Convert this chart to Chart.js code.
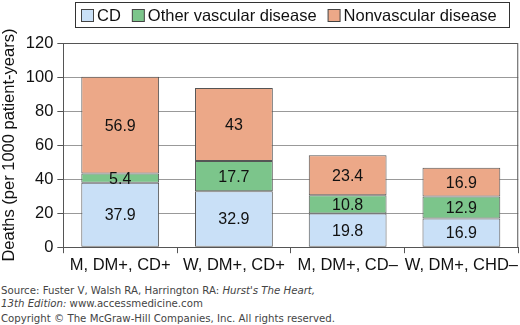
<!DOCTYPE html>
<html>
<head>
<meta charset="utf-8">
<script src="https://cdn.jsdelivr.net/npm/chart.js@4/dist/chart.umd.min.js"></script>
<style>
  body { margin: 0; background: #fff; }
  #wrap { position: relative; width: 520px; height: 325px; }
  #chartBox { position: absolute; left: 0; top: 0; width: 520px; height: 277px; }
  .src { position: absolute; left: 1px; font-family: 'DejaVu Sans', Verdana, sans-serif;
         font-size: 10.2px; color: #444; white-space: nowrap; }
</style>
</head>
<body>
<div id="wrap">
  <div id="chartBox"><canvas id="deaths"></canvas></div>
  <div class="src" style="top:285px">Source: Fuster V, Walsh RA, Harrington RA: <i>Hurst's The Heart,</i></div>
  <div class="src" style="top:298px"><i>13th Edition:</i> www.accessmedicine.com</div>
  <div class="src" style="top:313px">Copyright © The McGraw-Hill Companies, Inc. All rights reserved.</div>
</div>
<script>
// Datos
const groups = ['M, DM+, CD+', 'W, DM+, CD+', 'M, DM+, CD\u2013', 'W, DM+, CHD\u2013'];
const cd = [37.9, 32.9, 19.8, 16.9];
const otherVascular = [5.4, 17.7, 10.8, 12.9];
const nonVascular = [56.9, 43, 23.4, 16.9];
const yTicks = [0, 20, 40, 60, 80, 100, 120];

const FONT = "'Liberation Sans', Arial, Helvetica, sans-serif";
Chart.defaults.font.family = FONT;
Chart.defaults.color = '#111';

// Etiquetas de valor dentro de cada segmento
const segmentLabels = {
  id: 'segmentLabels',
  afterDatasetsDraw(chart) {
    const ctx = chart.ctx;
    ctx.save();
    ctx.font = '16px ' + FONT;
    ctx.fillStyle = '#111';
    ctx.textAlign = 'center';
    ctx.textBaseline = 'middle';
    chart.data.datasets.forEach((ds, i) => {
      chart.getDatasetMeta(i).data.forEach((bar, j) => {
        const mid = (bar.y + bar.base) / 2;
        ctx.fillText(String(ds.data[j]), bar.x, mid + 1);
      });
    });
    ctx.restore();
  }
};

// Marco del área de trazado y leyenda con recuadro
const frameAndLegend = {
  id: 'frameAndLegend',
  afterDraw(chart) {
    const ctx = chart.ctx;
    const a = chart.chartArea;
    ctx.save();
    ctx.strokeStyle = '#555';
    ctx.lineWidth = 1;
    ctx.beginPath();
    ctx.moveTo(a.left, a.top + 0.5);
    ctx.lineTo(a.right - 0.5, a.top + 0.5);
    ctx.lineTo(a.right - 0.5, a.bottom);
    ctx.stroke();

    // leyenda
    const lx = 75, ly = 2, lw = 434, lh = 25;
    ctx.strokeStyle = '#333';
    ctx.strokeRect(lx + 0.5, ly + 0.5, lw, lh);
    ctx.font = '16.5px ' + FONT;
    ctx.textBaseline = 'middle';
    ctx.textAlign = 'left';
    let x = lx + 6;
    chart.data.datasets.forEach(ds => {
      ctx.fillStyle = ds.backgroundColor;
      ctx.fillRect(x + 0.5, ly + 7.5, 12, 12);
      ctx.strokeStyle = '#444';
      ctx.strokeRect(x + 0.5, ly + 7.5, 12, 12);
      ctx.fillStyle = '#111';
      ctx.fillText(ds.label, x + 16, ly + 14);
      x += 16 + ctx.measureText(ds.label).width + 11;
    });
    ctx.restore();
  }
};

new Chart(document.getElementById('deaths'), {
  type: 'bar',
  data: {
    labels: groups,
    datasets: [
      { label: 'CD', data: cd, backgroundColor: '#c9e0f7' },
      { label: 'Other vascular disease', data: otherVascular, backgroundColor: '#7cc58b' },
      { label: 'Nonvascular disease', data: nonVascular, backgroundColor: '#eca888' }
    ].map(d => Object.assign(d, {
      borderColor: '#555',
      borderWidth: 1,
      borderSkipped: false,
      categoryPercentage: 1,
      barPercentage: 0.684
    }))
  },
  options: {
    responsive: true,
    maintainAspectRatio: false,
    animation: false,
    layout: { padding: { top: 43, right: 0, left: 0, bottom: 0 } },
    plugins: {
      legend: { display: false },
      tooltip: { enabled: false }
    },
    scales: {
      x: {
        stacked: true,
        grid: { drawOnChartArea: false, drawTicks: true, tickLength: 6, color: '#555', offset: true },
        border: { color: '#555' },
        ticks: { font: { size: 16.5 }, color: '#111', padding: 2, maxRotation: 0, autoSkip: false }
      },
      y: {
        stacked: true,
        min: 0,
        max: 120,
        afterBuildTicks: axis => { axis.ticks = yTicks.map(v => ({ value: v })); },
        grid: { color: '#999', tickLength: 6, tickColor: '#555' },
        border: { color: '#555' },
        ticks: { font: { size: 16.5 }, color: '#111', padding: 4 },
        title: {
          display: true,
          text: 'Deaths (per 1000 patient-years)',
          font: { size: 16.5 },
          color: '#111',
          padding: { top: 0, bottom: 2 }
        }
      }
    }
  },
  plugins: [segmentLabels, frameAndLegend]
});
</script>
</body>
</html>
